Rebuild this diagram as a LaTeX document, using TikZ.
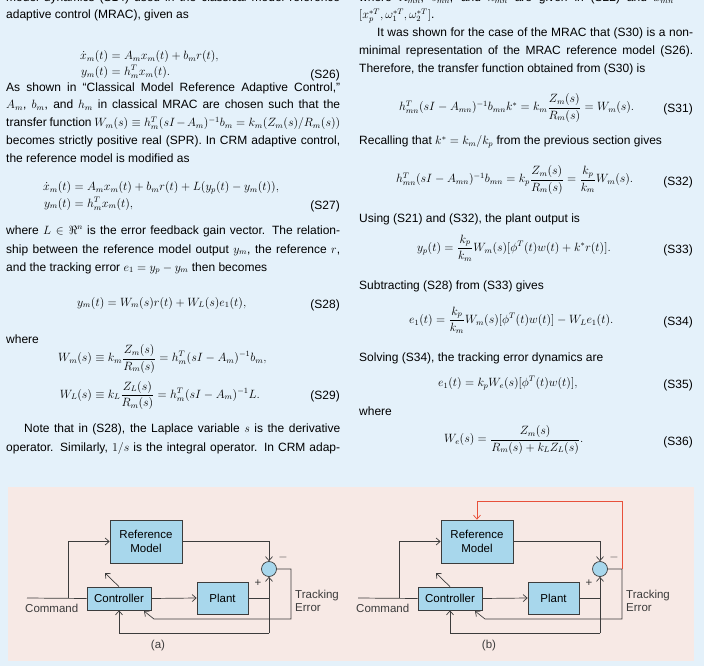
\documentclass[tikz,border=0pt]{standalone}
\usepackage{fontspec}
\usepackage{amsmath,amssymb}
\setmainfont{Liberation Sans}
\usetikzlibrary{arrows.meta}
\definecolor{pagebg}{HTML}{E4F1FA}
\definecolor{pinkbg}{HTML}{F7E9E5}
\definecolor{boxblue}{HTML}{A8D7EC}
\definecolor{lncol}{HTML}{3C3C3C}
\definecolor{redln}{HTML}{E8503A}
\newcommand\Tl[3]{\node[txt] at (#1,#2) {#3};}
\newcommand\Tj[3]{\node[txt] at (#1,#2) {\makebox[334pt][s]{#3}};}
\newcommand\Eq[3]{\node[eqn] at (#1,#2) {#3};}
\newcommand\Num[3]{\node[num] at (#1,#2) {#3};}
\newcommand\drawdiag[1]{%
  \node[blk, minimum width=72pt, minimum height=43pt, align=center] (ref#1) at (146,541.5) {Reference\\Model};
  \node[blk, minimum width=64pt, minimum height=23pt] (ctl#1) at (119,598.5) {Controller};
  \node[blk, minimum width=51pt, minimum height=32pt] (plt#1) at (222.5,598) {Plant};
  \node[blk, circle, minimum size=15pt, inner sep=0pt] (sum#1) at (269,569) {};
  \coordinate (cmd#1) at (27,598);
  \coordinate (br#1) at (68,598);
  \coordinate (j#1) at (269,598);
  \coordinate (bl#1) at (269,633);
  \coordinate (er#1) at (291,569);
  \coordinate (eb#1) at (291,619);
  \coordinate (ec#1) at (154,619);
  \coordinate (ct#1) at (144,611);
  \coordinate (dg#1) at (105,573);
  \draw[ln] (cmd#1) -- (ctl#1.west);
  \draw[ln,->] (br#1) |- (ref#1.west);
  \draw[ln,->] (ref#1.east) -| (sum#1.north);
  \draw[ln,->] (ctl#1.east) -- (plt#1.west);
  \draw[ln] (plt#1.east) -- (j#1);
  \draw[ln,->] (bl#1) -- (sum#1.south);
  \draw[ln,->] (bl#1) -| (ctl#1.south);
  \draw[ln,->] (sum#1.east) -- (er#1) -- (eb#1) -- (ec#1) -- (ct#1);
  \draw[ln,->] (ctl#1.north) -- (dg#1);
  \node[lab] (mi#1) at (283,557) {$-$};
  \node[lab] (pl#1) at (258,583) {+};
  \node[lab, align=left, anchor=west] (te#1) at (295,601) {Tracking\\Error};
  \node[lab, anchor=west] (cm#1) at (25,608) {Command};
}
\begin{document}
\begin{tikzpicture}[x=1pt,y=-1pt,
  txt/.style={anchor=base west, inner sep=0pt, font=\fontsize{12}{14}\selectfont},
  eqn/.style={anchor=west, inner sep=0pt, font=\fontsize{12}{14}\selectfont},
  num/.style={anchor=base east, inner sep=0pt, font=\fontsize{12}{14}\selectfont},
  blk/.style={draw=lncol, fill=boxblue, line width=0.7pt, inner sep=1pt, font=\fontsize{11.5}{13.5}\selectfont},
  ln/.style={draw=lncol, line width=0.7pt, >={Straight Barb[length=4pt,width=7pt]}},
  lab/.style={inner sep=0pt, font=\fontsize{11.5}{13.5}\selectfont, text=lncol}]
\useasboundingbox (0,0) rectangle (704,666);
\clip (0,0) rectangle (704,666);
\fill[pagebg] (0,0) rectangle (704,666);
% ---------- left column
\Tj{6}{2}{model dynamics (S14) used in the classical model reference}
\Tl{6}{19}{adaptive control (MRAC), given as}
\Eq{80}{65}{$\begin{aligned}\dot x_m(t)&=A_m x_m(t)+b_m r(t),\\[-3pt] y_m(t)&=h_m^T x_m(t).\end{aligned}$}
\Num{340}{79}{(S26)}
\Tj{6}{92}{As shown in ``Classical Model Reference Adaptive Control,''}
\Tj{6}{109}{$A_m$, $b_m$, and $h_m$ in classical MRAC are chosen such that the}
\Tj{6}{127}{transfer function $W_m(s)\equiv h_m^T(sI-A_m)^{-1}b_m=k_m(Z_m(s)/R_m(s))$}
\Tj{6}{145}{becomes strictly positive real (SPR). In CRM adaptive control,}
\Tl{6}{162}{the reference model is modified as}
\Eq{43}{196}{$\begin{aligned}\dot x_m(t)&=A_m x_m(t)+b_m r(t)+L(y_p(t)-y_m(t)),\\[-2pt] y_m(t)&=h_m^T x_m(t),\end{aligned}$}
\Num{340}{209}{(S27)}
\Tj{6}{234}{where $L\in\Re^n$ is the error feedback gain vector. The relation-}
\Tj{6}{253}{ship between the reference model output $y_m$, the reference $r$,}
\Tl{6}{271}{and the tracking error $e_1=y_p-y_m$ then becomes}
\Eq{77}{303}{$y_m(t)=W_m(s)r(t)+W_L(s)e_1(t),$}
\Num{340}{308}{(S28)}
\Tl{6}{343}{where}
\Eq{58}{377}{$\begin{aligned}W_m(s)&\equiv k_m\frac{Z_m(s)}{R_m(s)}=h_m^T(sI-A_m)^{-1}b_m,\\[4pt] W_L(s)&\equiv k_L\frac{Z_L(s)}{R_m(s)}=h_m^T(sI-A_m)^{-1}L.\end{aligned}$}
\Num{340}{399}{(S29)}
\Tj{6}{432}{\hspace*{18pt}Note that in (S28), the Laplace variable $s$ is the derivative}
\Tj{6}{451}{operator. Similarly, $1/s$ is the integral operator. In CRM adap-}
% ---------- right column
\Tj{359}{2}{where $A_{mn}$, $b_{mn}$, and $h_{mn}$ are given in (S22) and $x_{mn}=$}
\Tl{359}{19}{$[x_p^{*T},\omega_1^{*T},\omega_2^{*T}]$.}
\Tj{359}{37}{\hspace*{18pt}It was shown for the case of the MRAC that (S30) is a non-}
\Tj{359}{55}{minimal representation of the MRAC reference model (S26).}
\Tl{359}{73}{Therefore, the transfer function obtained from (S30) is}
\Eq{399}{108}{$h_{mn}^T(sI-A_{mn})^{-1}b_{mn}k^*=k_m\dfrac{Z_m(s)}{R_m(s)}=W_m(s).$}
\Num{693}{113}{(S31)}
\Tl{359}{145}{Recalling that $k^*=k_m/k_p$ from the previous section gives}
\Eq{396}{180}{$h_{mn}^T(sI-A_{mn})^{-1}b_{mn}=k_p\dfrac{Z_m(s)}{R_m(s)}=\dfrac{k_p}{k_m}W_m(s).$}
\Num{693}{185}{(S32)}
\Tl{359}{222}{Using (S21) and (S32), the plant output is}
\Eq{417}{248}{$y_p(t)=\dfrac{k_p}{k_m}W_m(s)[\phi^T(t)w(t)+k^*r(t)].$}
\Num{693}{253}{(S33)}
\Tl{359}{289}{Subtracting (S28) from (S33) gives}
\Eq{409}{320}{$e_1(t)=\dfrac{k_p}{k_m}W_m(s)[\phi^T(t)w(t)]-W_Le_1(t).$}
\Num{693}{325}{(S34)}
\Tl{359}{361}{Solving (S34), the tracking error dynamics are}
\Eq{438}{383}{$e_1(t)=k_pW_e(s)[\phi^T(t)w(t)],$}
\Num{693}{388}{(S35)}
\Tl{359}{415}{where}
\Eq{444}{440}{$W_e(s)=\dfrac{Z_m(s)}{R_m(s)+k_LZ_L(s)}.$}
\Num{693}{445}{(S36)}
% ---------- figure
\fill[pinkbg] (8,487) rectangle (694,661);
\drawdiag{a}
\node[lab] (capa) at (158,646) {(a)};
\begin{scope}[xshift=331pt]
\drawdiag{b}
\coordinate (rt) at (291,501);
\coordinate (rl) at (146,501);
\draw[ln, draw=redln, ->] (erb) -- (rt) -- (rl) -- (refb.north);
\node[lab] (capb) at (158,646) {(b)};
\end{scope}
\end{tikzpicture}
\end{document}
